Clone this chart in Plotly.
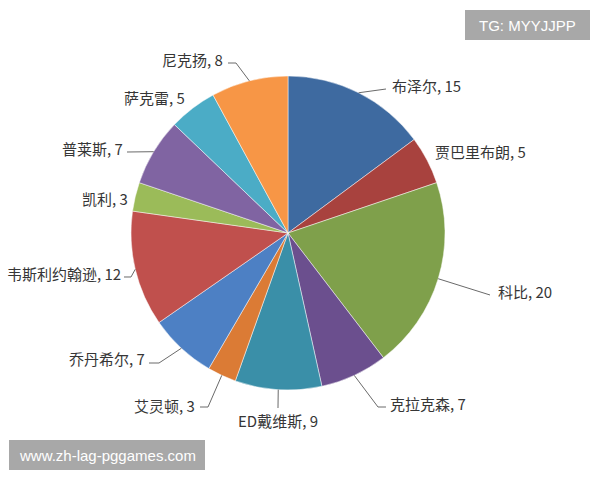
import math
import plotly.graph_objects as go

W, H = 600, 480

players = ["布泽尔", "贾巴里布朗", "科比", "克拉克森", "ED戴维斯", "艾灵顿",
           "乔丹希尔", "韦斯利约翰逊", "凯利", "普莱斯", "萨克雷", "尼克扬"]
points = [15, 5, 20, 7, 9, 3, 7, 12, 3, 7, 5, 8]
label_texts = ["布泽尔, 15", "贾巴里布朗, 5", "科比, 20", "克拉克森, 7", "ED戴维斯, 9", "艾灵顿, 3",
               "乔丹希尔, 7", "韦斯利约翰逊, 12", "凯利, 3", "普莱斯, 7", "萨克雷, 5", "尼克扬, 8"]
colors = ["#3E6AA0", "#A8423E", "#7FA04B", "#6B4F8E", "#3A8FA8", "#DB7B35",
          "#4D80C4", "#C0504D", "#9BBB59", "#8064A2", "#4BACC6", "#F79646"]

# layout: pie centre / radius in px
CX, CY, R = 288, 233, 157
label_pos = [
    (390, 85, "left"), (433, 151, "left"), (496, 291, "left"), (388, 403, "left"),
    (278, 420, "center"), (197, 405, "right"), (147, 358, "right"), (123, 273, "right"),
    (130, 198, "right"), (125, 148, "right"), (187, 98, "right"), (225, 59, "right"),
]
leaders = [
    [(386, 89)], None, [(490, 295)], [(378, 407), (386, 407)],
    [(278, 408)], [(208, 407), (200, 407)], [(159, 363), (149, 363)], [(131, 277), (124, 277)],
    None, [(127, 152)], None, [(236, 63), (228, 63)],
]


def px(x):
    return x / W


def py(y):
    return 1 - y / H


fig = go.Figure()
fig.add_trace(go.Pie(
    labels=players, values=points, sort=False, direction="clockwise", rotation=0,
    marker=dict(colors=colors, line=dict(color="rgba(255,255,255,0.6)", width=0.8)),
    textinfo="none", hoverinfo="label+value", showlegend=False,
    domain=dict(x=[px(CX - R), px(CX + R)], y=[py(CY + R), py(CY - R)]),
))

total = sum(points)
shapes = []
annotations = []
cum = 0
for i, v in enumerate(points):
    mid = (cum + v / 2) / total * 2 * math.pi
    cum += v
    ex = CX + R * math.sin(mid)
    ey = CY - R * math.cos(mid)
    if leaders[i]:
        pts = [(ex, ey)] + leaders[i]
        path = "M " + " L ".join(f"{px(a):.5f},{py(b):.5f}" for a, b in pts)
        shapes.append(dict(type="path", path=path, xref="paper", yref="paper",
                           line=dict(color="#6a6a6a", width=1)))
    lx, ly, side = label_pos[i]
    annotations.append(dict(x=px(lx), y=py(ly), xref="paper", yref="paper",
                            text=label_texts[i], showarrow=False, xanchor=side, yanchor="middle",
                            font=dict(family="Noto Sans CJK SC", size=15, color="#363636")))

# watermark boxes
shapes.append(dict(type="rect", xref="paper", yref="paper", x0=px(465), x1=px(590),
                   y0=py(40), y1=py(10), fillcolor="#a8a8a8", line=dict(width=0), layer="above"))
annotations.append(dict(x=px(527.5), y=py(25), xref="paper", yref="paper", text="TG: MYYJJPP",
                        showarrow=False, xanchor="center", yanchor="middle",
                        font=dict(family="Liberation Sans", size=15, color="white")))
shapes.append(dict(type="rect", xref="paper", yref="paper", x0=px(9), x1=px(205),
                   y0=py(470), y1=py(440), fillcolor="#a8a8a8", line=dict(width=0), layer="above"))
annotations.append(dict(x=px(107), y=py(455), xref="paper", yref="paper", text="www.zh-lag-pggames.com",
                        showarrow=False, xanchor="center", yanchor="middle",
                        font=dict(family="Liberation Sans", size=15, color="white")))

fig.update_layout(width=W, height=H, margin=dict(l=0, r=0, t=0, b=0),
                  paper_bgcolor="white", plot_bgcolor="white",
                  shapes=shapes, annotations=annotations)
fig.write_html("out.html", config={"displayModeBar": False},
               post_script="document.body.style.margin='0';document.body.style.overflow='hidden';")
